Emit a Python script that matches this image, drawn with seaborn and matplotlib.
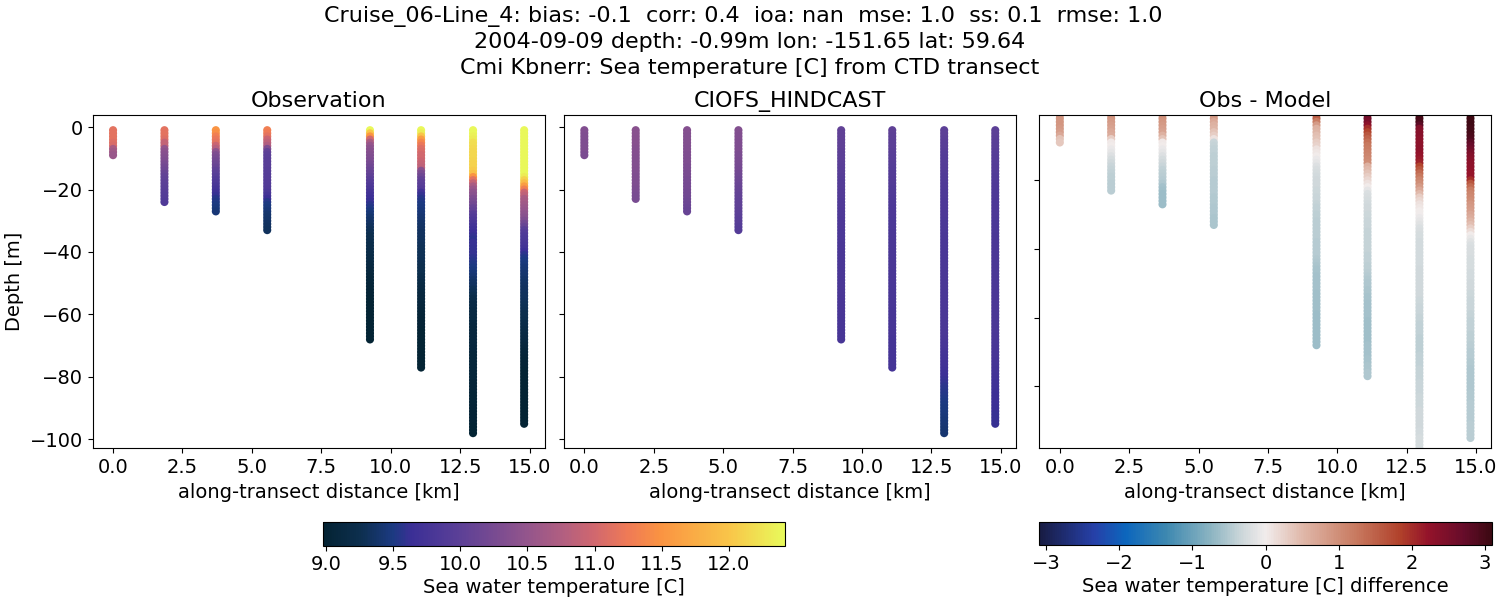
#Cross section of a CTD transect: observation, model and difference panels
import pandas as pd
import matplotlib
matplotlib.use("Agg")
import matplotlib.pyplot as plt
from matplotlib.colors import LinearSegmentedColormap, Normalize
from matplotlib.cm import ScalarMappable
import seaborn as sns

#station positions along the transect [km]
stations = [0.0, 1.85, 3.70, 5.55, 9.25, 11.09, 12.96, 14.80]

#sample depths [m], each profile takes as many as it has values
depth_grid = [-1, -2, -3, -4, -5, -6, -7, -8, -9, -10, -11, -12, -13, -14, -15, -16, -17, -18, -19, -20,
              -21, -22, -23, -24, -25, -26, -27, -28, -29, -30, -31, -32, -33, -34, -35, -36, -37, -38, -39, -40,
              -41, -42, -43, -44, -45, -46, -47, -48, -49, -50, -51, -52, -53, -54, -55, -56, -57, -58, -59, -60,
              -61, -62, -63, -64, -65, -66, -67, -68, -69, -70, -71, -72, -73, -74, -75, -76, -77, -78, -79, -80,
              -81, -82, -83, -84, -85, -86, -87, -88, -89, -90, -91, -92, -93, -94, -95, -96, -97, -98]

#observed temperature at each station [C], ten samples a row
obs_1 = [11.15, 11.15, 11.15, 11.15, 11.1, 11.05, 10.7, 10.6, 10.55]
obs_2 = [11.15, 11.15, 11.15, 11.1, 10.9, 10.9, 10.5, 10.42, 10.38, 10.35,
         10.3, 10.25, 10.2, 10.15, 10.1, 10.05, 10.02, 10.0, 9.98, 9.96,
         9.94, 9.92, 9.9, 9.88]
obs_3 = [11.5, 11.45, 11.3, 11.2, 11.15, 10.95, 10.8, 10.45, 10.3, 10.25,
         10.2, 10.15, 10.1, 10.02, 9.98, 9.93, 9.88, 9.83, 9.78, 9.72,
         9.68, 9.62, 9.55, 9.52, 9.5, 9.47, 9.45]
obs_4 = [11.3, 11.25, 11.15, 10.95, 10.85, 10.75, 10.3, 10.05, 10.0, 9.98,
         9.97, 9.96, 9.95, 9.94, 9.93, 9.92, 9.91, 9.9, 9.89, 9.87,
         9.82, 9.75, 9.65, 9.55, 9.5, 9.47, 9.44, 9.41, 9.39, 9.37,
         9.35, 9.33, 9.32]
obs_5 = [12.4, 12.0, 11.5, 11.0, 10.7, 10.5, 10.42, 10.38, 10.35, 10.32,
         10.28, 10.22, 10.17, 10.12, 10.07, 10.02, 9.97, 9.92, 9.86, 9.8,
         9.75, 9.7, 9.66, 9.62, 9.57, 9.52, 9.47, 9.44, 9.41, 9.38,
         9.35, 9.32, 9.3, 9.28, 9.26, 9.25, 9.24, 9.22, 9.21, 9.2,
         9.19, 9.17, 9.16, 9.14, 9.12, 9.1, 9.09, 9.07, 9.06, 9.05,
         9.04, 9.03, 9.02, 9.01, 9.0, 9.0, 9.0, 9.0, 9.0, 9.0,
         9.0, 9.0, 9.0, 9.0, 9.0, 9.0, 9.0, 9.0]
obs_6 = [12.4, 12.3, 12.0, 11.6, 11.35, 11.2, 11.1, 11.05, 11.0, 11.0,
         10.95, 10.9, 10.85, 10.4, 10.25, 10.15, 10.05, 10.0, 9.95, 9.9,
         9.7, 9.6, 9.55, 9.52, 9.5, 9.48, 9.46, 9.44, 9.42, 9.4,
         9.38, 9.36, 9.35, 9.34, 9.33, 9.32, 9.32, 9.31, 9.3, 9.3,
         9.3, 9.29, 9.28, 9.27, 9.26, 9.25, 9.25, 9.22, 9.2, 9.17,
         9.15, 9.13, 9.12, 9.11, 9.1, 9.09, 9.08, 9.07, 9.05, 9.04,
         9.03, 9.02, 9.01, 9.01, 9.0, 9.0, 9.0, 9.0, 9.0, 9.0,
         9.0, 9.0, 9.0, 9.0, 9.0, 9.0, 9.0]
obs_7 = [12.4, 12.4, 12.35, 12.3, 12.2, 12.18, 12.16, 12.15, 12.15, 12.15,
         12.12, 12.1, 12.1, 12.05, 11.95, 11.5, 11.15, 10.9, 10.7, 10.55,
         10.45, 10.4, 10.3, 10.25, 10.2, 10.1, 10.05, 9.95, 9.9, 9.85,
         9.78, 9.72, 9.68, 9.64, 9.6, 9.58, 9.62, 9.62, 9.6, 9.6,
         9.6, 9.58, 9.55, 9.52, 9.5, 9.47, 9.45, 9.42, 9.38, 9.35,
         9.33, 9.3, 9.28, 9.25, 9.2, 9.19, 9.18, 9.17, 9.15, 9.14,
         9.13, 9.12, 9.12, 9.11, 9.1, 9.1, 9.1, 9.1, 9.1, 9.09,
         9.08, 9.08, 9.07, 9.07, 9.07, 9.06, 9.06, 9.05, 9.05, 9.05,
         9.05, 9.04, 9.04, 9.04, 9.04, 9.03, 9.03, 9.03, 9.03, 9.02,
         9.02, 9.02, 9.02, 9.01, 9.01, 9.0, 9.0, 9.0]
obs_8 = [12.4, 12.4, 12.4, 12.4, 12.4, 12.4, 12.4, 12.4, 12.4, 12.4,
         12.4, 12.4, 12.4, 12.4, 12.4, 12.3, 12.1, 11.9, 11.6, 11.3,
         10.95, 10.85, 10.7, 10.65, 10.6, 10.55, 10.5, 10.45, 10.4, 10.3,
         10.2, 10.1, 9.95, 9.9, 9.85, 9.82, 9.8, 9.77, 9.72, 9.65,
         9.58, 9.53, 9.5, 9.47, 9.45, 9.43, 9.42, 9.4, 9.38, 9.36,
         9.35, 9.34, 9.33, 9.32, 9.32, 9.31, 9.3, 9.28, 9.27, 9.26,
         9.25, 9.23, 9.22, 9.2, 9.18, 9.16, 9.15, 9.13, 9.12, 9.1,
         9.08, 9.06, 9.05, 9.04, 9.03, 9.02, 9.01, 9.0, 9.0, 9.0,
         9.0, 9.0, 9.0, 9.0, 9.0, 9.0, 9.0, 9.0, 9.0, 9.0,
         9.0, 9.0, 9.0, 9.0, 9.0]

#model temperature at each station [C]
model_1 = [10.33, 10.33, 10.32, 10.32, 10.31, 10.31, 10.3, 10.3, 10.28]
model_2 = [10.4, 10.4, 10.4, 10.38, 10.38, 10.38, 10.36, 10.36, 10.36, 10.35,
           10.35, 10.34, 10.34, 10.33, 10.33, 10.32, 10.32, 10.3, 10.3, 10.28,
           10.28, 10.26, 10.25]
model_3 = [10.36, 10.36, 10.35, 10.35, 10.34, 10.34, 10.33, 10.33, 10.32, 10.32,
           10.3, 10.3, 10.28, 10.28, 10.26, 10.26, 10.24, 10.24, 10.22, 10.22,
           10.2, 10.2, 10.18, 10.16, 10.14, 10.12, 10.1]
model_4 = [10.34, 10.34, 10.33, 10.33, 10.32, 10.32, 10.3, 10.3, 10.28, 10.28,
           10.26, 10.25, 10.24, 10.22, 10.2, 10.18, 10.16, 10.14, 10.12, 10.1,
           10.08, 10.06, 10.05, 10.04, 10.03, 10.02, 10.01, 10.0, 9.98, 9.96,
           9.95, 9.93, 9.92]
model_5 = [10.05, 10.04, 10.04, 10.03, 10.03, 10.02, 10.02, 10.01, 10.0, 10.0,
           9.99, 9.98, 9.97, 9.96, 9.95, 9.94, 9.93, 9.92, 9.92, 9.91,
           9.9, 9.9, 9.89, 9.88, 9.88, 9.87, 9.86, 9.85, 9.85, 9.84,
           9.84, 9.83, 9.83, 9.82, 9.82, 9.82, 9.82, 9.81, 9.81, 9.81,
           9.8, 9.8, 9.8, 9.8, 9.8, 9.8, 9.8, 9.8, 9.8, 9.8,
           9.8, 9.8, 9.8, 9.8, 9.79, 9.79, 9.79, 9.79, 9.79, 9.79,
           9.78, 9.78, 9.78, 9.78, 9.78, 9.78, 9.78, 9.78]
model_6 = [10.02, 10.02, 10.01, 10.01, 10.0, 10.0, 9.99, 9.98, 9.97, 9.96,
           9.95, 9.94, 9.93, 9.92, 9.92, 9.91, 9.9, 9.9, 9.89, 9.88,
           9.88, 9.87, 9.86, 9.85, 9.85, 9.84, 9.84, 9.83, 9.83, 9.82,
           9.82, 9.82, 9.82, 9.81, 9.81, 9.81, 9.8, 9.8, 9.8, 9.8,
           9.8, 9.8, 9.8, 9.8, 9.8, 9.8, 9.79, 9.79, 9.79, 9.79,
           9.78, 9.78, 9.78, 9.78, 9.78, 9.78, 9.78, 9.78, 9.77, 9.77,
           9.77, 9.76, 9.76, 9.76, 9.76, 9.76, 9.76, 9.75, 9.75, 9.75,
           9.75, 9.75, 9.75, 9.75, 9.75, 9.75, 9.75]
model_7 = [10.0, 10.0, 9.99, 9.98, 9.97, 9.96, 9.95, 9.94, 9.93, 9.92,
           9.92, 9.91, 9.9, 9.9, 9.89, 9.88, 9.88, 9.87, 9.86, 9.86,
           9.85, 9.85, 9.85, 9.84, 9.84, 9.84, 9.83, 9.83, 9.83, 9.82,
           9.82, 9.82, 9.82, 9.82, 9.81, 9.81, 9.81, 9.81, 9.8, 9.8,
           9.8, 9.8, 9.8, 9.8, 9.8, 9.8, 9.8, 9.8, 9.8, 9.8,
           9.8, 9.8, 9.8, 9.8, 9.8, 9.8, 9.8, 9.8, 9.8, 9.8,
           9.8, 9.8, 9.8, 9.8, 9.8, 9.8, 9.8, 9.79, 9.78, 9.77,
           9.76, 9.75, 9.74, 9.73, 9.72, 9.71, 9.7, 9.68, 9.66, 9.64,
           9.62, 9.6, 9.58, 9.56, 9.55, 9.54, 9.52, 9.51, 9.5, 9.49,
           9.48, 9.47, 9.46, 9.45, 9.44, 9.43, 9.42, 9.42]
model_8 = [10.0, 10.0, 9.99, 9.98, 9.97, 9.96, 9.95, 9.94, 9.93, 9.92,
           9.92, 9.91, 9.9, 9.9, 9.89, 9.88, 9.88, 9.87, 9.86, 9.86,
           9.85, 9.85, 9.85, 9.84, 9.84, 9.84, 9.83, 9.83, 9.83, 9.82,
           9.82, 9.82, 9.82, 9.82, 9.81, 9.81, 9.81, 9.81, 9.8, 9.8,
           9.8, 9.8, 9.8, 9.8, 9.8, 9.8, 9.8, 9.8, 9.8, 9.8,
           9.8, 9.8, 9.8, 9.8, 9.8, 9.8, 9.8, 9.8, 9.8, 9.8,
           9.8, 9.8, 9.8, 9.8, 9.8, 9.8, 9.79, 9.79, 9.78, 9.78,
           9.77, 9.77, 9.76, 9.76, 9.75, 9.75, 9.74, 9.73, 9.72, 9.71,
           9.7, 9.69, 9.68, 9.67, 9.66, 9.65, 9.65, 9.64, 9.64, 9.63,
           9.63, 9.62, 9.62, 9.62, 9.62]

#obs - model at each station [C]
diff_1 = [0.9, 0.9, 0.9, 0.9, 0.85, 0.8, 0.7, 0.4, 0.35]
diff_2 = [0.9, 0.9, 0.85, 0.8, 0.75, 0.7, 0.65, 0.3, 0.03, 0.0,
          -0.05, -0.12, -0.18, -0.25, -0.3, -0.35, -0.38, -0.4, -0.42, -0.43,
          -0.44, -0.44, -0.45]
diff_3 = [1.0, 0.95, 0.9, 0.85, 0.8, 0.75, 0.6, 0.4, 0.03, 0.0,
          -0.05, -0.1, -0.18, -0.25, -0.3, -0.35, -0.4, -0.42, -0.45, -0.48,
          -0.52, -0.58, -0.62, -0.64, -0.65, -0.65, -0.65]
diff_4 = [0.95, 0.85, 0.7, 0.6, 0.55, 0.4, 0.3, 0.1, -0.35, -0.38,
          -0.4, -0.41, -0.42, -0.42, -0.42, -0.43, -0.44, -0.45, -0.45, -0.46,
          -0.46, -0.46, -0.47, -0.48, -0.49, -0.5, -0.5, -0.51, -0.52, -0.53,
          -0.54, -0.55, -0.55]
diff_5 = [1.9, 1.5, 1.2, 0.85, 0.6, 0.55, 0.45, 0.4, 0.3, 0.25,
          0.1, 0.05, 0.0, -0.05, -0.1, -0.18, -0.22, -0.25, -0.27, -0.3,
          -0.3, -0.31, -0.32, -0.33, -0.34, -0.36, -0.38, -0.4, -0.41, -0.42,
          -0.43, -0.44, -0.45, -0.45, -0.45, -0.45, -0.45, -0.46, -0.46, -0.46,
          -0.47, -0.48, -0.5, -0.52, -0.54, -0.56, -0.57, -0.58, -0.59, -0.6,
          -0.6, -0.6, -0.61, -0.62, -0.62, -0.62, -0.62, -0.62, -0.63, -0.63,
          -0.64, -0.64, -0.64, -0.64, -0.64, -0.64, -0.64, -0.64]
diff_6 = [2.7, 2.6, 2.5, 2.3, 2.0, 1.8, 1.6, 1.45, 1.35, 1.25,
          1.2, 1.15, 1.1, 1.05, 1.0, 0.6, 0.5, 0.4, 0.3, 0.2,
          0.1, 0.0, -0.12, -0.2, -0.23, -0.26, -0.28, -0.3, -0.31, -0.32,
          -0.33, -0.34, -0.35, -0.36, -0.37, -0.38, -0.38, -0.38, -0.38, -0.38,
          -0.38, -0.39, -0.4, -0.41, -0.42, -0.43, -0.44, -0.47, -0.5, -0.52,
          -0.53, -0.54, -0.55, -0.56, -0.57, -0.58, -0.59, -0.6, -0.6, -0.6,
          -0.61, -0.61, -0.62, -0.62, -0.62, -0.61, -0.61, -0.6, -0.6, -0.59,
          -0.58, -0.57, -0.56, -0.55, -0.54, -0.53, -0.52]
diff_7 = [3.05, 3.0, 2.95, 2.8, 2.4, 2.35, 2.35, 2.3, 2.3, 2.3,
          2.3, 2.25, 2.2, 2.15, 2.1, 1.8, 1.6, 1.4, 1.25, 1.1,
          1.0, 0.85, 0.7, 0.5, 0.3, 0.2, 0.1, 0.05, 0.02, -0.02,
          -0.06, -0.1, -0.15, -0.2, -0.22, -0.25, -0.26, -0.27, -0.28, -0.28,
          -0.28, -0.28, -0.28, -0.28, -0.28, -0.29, -0.29, -0.29, -0.29, -0.29,
          -0.3, -0.3, -0.3, -0.31, -0.32, -0.33, -0.34, -0.35, -0.36, -0.37,
          -0.38, -0.39, -0.4, -0.41, -0.41, -0.42, -0.42, -0.42, -0.42, -0.42,
          -0.41, -0.41, -0.4, -0.39, -0.38, -0.38, -0.37, -0.37, -0.36, -0.35,
          -0.34, -0.34, -0.33, -0.33, -0.32, -0.32, -0.31, -0.31, -0.3, -0.3,
          -0.29, -0.29, -0.28, -0.27, -0.26, -0.26, -0.25, -0.25]
diff_8 = [3.1, 3.1, 3.05, 3.05, 3.0, 3.0, 2.95, 2.9, 2.8, 2.7,
          2.6, 2.5, 2.4, 2.35, 2.3, 2.28, 2.25, 2.22, 2.2, 2.0,
          1.6, 1.4, 1.2, 1.1, 1.05, 1.0, 0.9, 0.85, 0.8, 0.72,
          0.65, 0.55, 0.45, 0.3, 0.15, 0.02, -0.08, -0.15, -0.2, -0.22,
          -0.23, -0.24, -0.25, -0.25, -0.26, -0.26, -0.27, -0.28, -0.28, -0.3,
          -0.3, -0.31, -0.32, -0.33, -0.34, -0.35, -0.35, -0.36, -0.37, -0.38,
          -0.39, -0.4, -0.41, -0.41, -0.42, -0.42, -0.43, -0.44, -0.45, -0.46,
          -0.47, -0.48, -0.49, -0.5, -0.51, -0.52, -0.53, -0.53, -0.53, -0.52,
          -0.51, -0.5, -0.5, -0.49, -0.48, -0.48, -0.47, -0.47, -0.46, -0.46,
          -0.45, -0.45, -0.45, -0.44, -0.44]

obs_temp = [obs_1, obs_2, obs_3, obs_4, obs_5, obs_6, obs_7, obs_8]
model_temp = [model_1, model_2, model_3, model_4, model_5, model_6, model_7, model_8]
diff_temp = [diff_1, diff_2, diff_3, diff_4, diff_5, diff_6, diff_7, diff_8]

xticks = [0.0, 2.5, 5.0, 7.5, 10.0, 12.5, 15.0]
yticks = [0, -20, -40, -60, -80, -100]
temp_ticks = [9.0, 9.5, 10.0, 10.5, 11.0, 11.5, 12.0]
diff_ticks = [-3, -2, -1, 0, 1, 2, 3]

#cmocean is not installed so thermal and balance are rebuilt from colours
thermal = LinearSegmentedColormap.from_list("thermal", [
    (0.00, "#042333"), (0.08, "#0d2f4f"), (0.15, "#1c3a82"), (0.19, "#3b2f96"), (0.29, "#5a3f97"),
    (0.44, "#93558c"), (0.52, "#b25f80"), (0.585, "#d0676f"), (0.66, "#ef7a56"), (0.73, "#fa9342"),
    (0.88, "#f9c549"), (1.00, "#e8fa5b")])
balance = LinearSegmentedColormap.from_list("balance", [
    (0.00, "#181c43"), (0.12, "#2640a8"), (0.19, "#0c66bd"), (0.28, "#3d88b0"), (0.38, "#8db5c2"),
    (0.45, "#cfd8db"), (0.50, "#f1ecec"), (0.58, "#e0b9ab"), (0.70, "#c87a60"), (0.80, "#b0402a"),
    (0.86, "#94132a"), (0.94, "#660c2a"), (1.00, "#3c0912")])
temp_norm = Normalize(8.98, 12.42)
diff_norm = Normalize(-3.09, 3.09)

sns.set_style("ticks")
plt.rcParams["font.family"] = "DejaVu Sans"
plt.rcParams["font.size"] = 14
plt.rcParams["text.color"] = "black"
plt.rcParams["axes.labelcolor"] = "black"
plt.rcParams["xtick.color"] = "black"
plt.rcParams["ytick.color"] = "black"
plt.rcParams["axes.edgecolor"] = "black"
plt.rcParams["axes.linewidth"] = 0.8
plt.rcParams["xtick.major.size"] = 3.5
plt.rcParams["ytick.major.size"] = 3.5
plt.rcParams["xtick.major.width"] = 0.8
plt.rcParams["ytick.major.width"] = 0.8


def make_frame(values):
    #one row for every sample, shallow first so deeper markers land on top
    rows = []
    for x, vals in zip(stations, values):
        for d, v in zip(depth_grid, vals):
            rows.append({"distance": x, "depth": d, "value": v})
    return pd.DataFrame(rows)


W, H = 1500, 600
fig = plt.figure(figsize=(W / 100, H / 100), dpi=100)


def pixel_axes(left, top, right, bottom):
    return fig.add_axes([left / W, 1 - bottom / H, (right - left) / W, (bottom - top) / H])


ax1 = pixel_axes(92.5, 115, 544.7, 448.3)
ax2 = pixel_axes(563.8, 115, 1015.8, 448.3)
ax3 = pixel_axes(1039.3, 115, 1491, 448.3)
panels = [(ax1, obs_temp, thermal, temp_norm, "Observation"),
          (ax2, model_temp, thermal, temp_norm, "CIOFS_HINDCAST"),
          (ax3, diff_temp, balance, diff_norm, "Obs - Model")]

for ax, values, cmap, norm, title in panels:
    df = make_frame(values)
    sns.scatterplot(data=df, x="distance", y="depth", hue="value", palette=cmap, hue_norm=norm,
                    s=34, linewidth=0, legend=False, ax=ax)
    ax.set_title(title, fontsize=16, pad=6)
    ax.set_xlim(-0.74, 15.54)
    ax.set_xticks(xticks)
    ax.set_yticks(yticks)
    ax.tick_params(labelsize=14)
    ax.set_xlabel("along-transect distance [km]", fontsize=14)
    ax.set_ylabel("")

ax1.set_ylim(-102.85, 3.86)
ax2.set_ylim(-102.85, 3.86)
ax3.set_ylim(-98, -1)  #the difference panel has its own tight depth range
ax1.set_ylabel("Depth [m]", fontsize=14)
ax2.tick_params(labelleft=False)
ax3.tick_params(labelleft=False)

#the first line has trailing spaces in it, that is why it sits a little left of centre
fig.suptitle("Cruise_06-Line_4: bias: -0.1  corr: 0.4  ioa: nan  mse: 1.0  ss: 0.1  rmse: 1.0  \n"
             "2004-09-09 depth: -0.99m lon: -151.65 lat: 59.64\n"
             "Cmi Kbnerr: Sea temperature [C] from CTD transect", fontsize=16, y=0.99, va="top",
             linespacing=1.33)

cax1 = pixel_axes(323.3, 522, 785.3, 545.5)
cb1 = fig.colorbar(ScalarMappable(norm=temp_norm, cmap=thermal), cax=cax1, orientation="horizontal")
cb1.set_ticks(temp_ticks)
cb1.set_label("Sea water temperature [C]", fontsize=14, labelpad=3)
cb1.ax.tick_params(labelsize=14)

cax2 = pixel_axes(1039.3, 522, 1491.7, 544.5)
cb2 = fig.colorbar(ScalarMappable(norm=diff_norm, cmap=balance), cax=cax2, orientation="horizontal")
cb2.set_ticks(diff_ticks)
cb2.set_label("Sea water temperature [C] difference", fontsize=14, labelpad=3)
cb2.ax.tick_params(labelsize=14)

plt.savefig("out.png", dpi=100)
